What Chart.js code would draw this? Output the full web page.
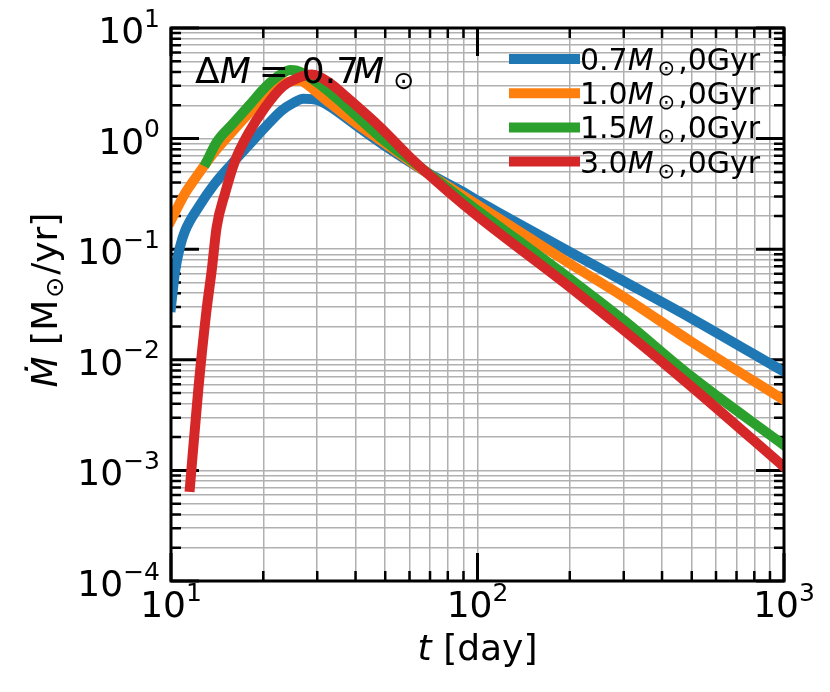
<!DOCTYPE html>
<html>
<head>
<meta charset="utf-8">
<script src="https://cdn.jsdelivr.net/npm/chart.js@4.4.1/dist/chart.umd.min.js"></script>
<style>
  html, body { margin: 0; padding: 0; background: #fff; }
  canvas { display: block; }
</style>
</head>
<body>
<canvas id="mdotChart" width="830" height="692"></canvas>
<script>
// time [day] and mass fallback rate [Msun/yr]
const t07 = [10, 10.3, 10.7, 11.1, 12.3, 13.9, 15.8, 17.9, 20.3, 23.0, 25.0, 27.0, 30.3, 33.0, 40.4, 50.6, 66.5, 90, 100, 115.6, 200, 300, 500, 1000];
const mdot07 = [0.030, 0.062, 0.105, 0.145, 0.240, 0.392, 0.593, 0.869, 1.27, 1.80, 2.09, 2.29, 2.21, 1.95, 1.30, 0.837, 0.516, 0.328, 0.275, 0.219, 0.0944, 0.0513, 0.0236, 0.0078];

const t10 = [10, 11.1, 12.3, 13.2, 14.3, 15.8, 17.9, 20.3, 23.0, 25.0, 26.3, 27.5, 29.1, 33.0, 40.4, 51.9, 66.5, 90, 100, 115.6, 200, 300, 500, 1000];
const mdot10 = [0.182, 0.318, 0.482, 0.635, 0.837, 1.146, 1.679, 2.455, 3.13, 3.31, 3.35, 3.16, 2.79, 2.09, 1.36, 0.837, 0.516, 0.303, 0.251, 0.195, 0.0741, 0.0370, 0.01452, 0.00432];

const t15 = [13.06, 14.1, 15.85, 18.0, 20.4, 23.1, 24.5, 25.7, 31.4, 37.4, 48.1, 64.9, 100, 200, 300, 500, 1000];
const mdot15 = [0.617, 0.933, 1.349, 1.995, 2.951, 3.89, 4.17, 4.12, 2.92, 1.93, 1.033, 0.553, 0.2244, 0.0542, 0.0228, 0.00702, 0.00169];

const t30 = [11.53, 12.27, 13.06, 13.58, 14.09, 15.0, 16.2, 17.86, 20.3, 23.0, 26.0, 28.8, 33.1, 37.4, 48.1, 61.7, 79.4, 100, 200, 300, 500, 1000];
const mdot30 = [0.00071, 0.00531, 0.0282, 0.0646, 0.158, 0.318, 0.635, 1.107, 1.928, 2.917, 3.548, 3.80, 3.162, 2.371, 1.271, 0.635, 0.340, 0.1995, 0.0455, 0.0185, 0.00569, 0.001076];

const starMass = ['0.7', '1.0', '1.5', '3.0'];
const starAge = '0Gyr';
const colors = ['#1f77b4', '#ff7f0e', '#2ca02c', '#d62728'];

// axis decades and their exponent labels
const xMajor = [10, 100, 1000];
const xExp = ['1', '2', '3'];
const yMajor = [10, 1, 0.1, 0.01, 0.001, 0.0001];
const yExp = ['1', '0', '\u22121', '\u22122', '\u22123', '\u22124'];

const FAM = '"DejaVu Sans"';
const MAIN = '36px ' + FAM;
const ITAL = 'italic 36px ' + FAM;
const SUP = '25px ' + FAM;
const LEG = '30px ' + FAM;
const LEG_I = 'italic 30px ' + FAM;
const LEG_S = '21px ' + FAM;

// minor ticks at 2..9 of each decade
function withMinors(majors) {
  const lo = Math.min(...majors), hi = Math.max(...majors);
  const out = [];
  majors.slice().sort((a, b) => a - b).forEach(m => {
    for (let k = 1; k <= 9; k++) {
      const v = +(m * k).toPrecision(3);
      if (v >= lo && v <= hi) out.push(v);
    }
  });
  return out;
}
const xTicks = withMinors(xMajor);
const yTicks = withMinors(yMajor);

function pts(ts, ys) {
  return ts.map((t, i) => ({ x: t, y: ys[i] }));
}

// draws text made of several runs (fonts / shifts) on one baseline
function drawParts(ctx, parts, x, y, align) {
  let w = 0;
  parts.forEach(p => {
    ctx.font = p.font;
    p.w = ctx.measureText(p.text).width;
    w += p.w + (p.dx || 0);
  });
  let cx = align === 'center' ? x - w / 2 : (align === 'right' ? x - w : x);
  parts.forEach(p => {
    ctx.font = p.font;
    cx += p.dx || 0;
    ctx.fillText(p.text, cx, y + (p.dy || 0));
    cx += p.w;
  });
}

const overlay = {
  id: 'overlay',
  beforeDatasetsDraw(chart) {
    // inward ticks on all four sides
    const ctx = chart.ctx, a = chart.chartArea;
    const xs = chart.scales.x, ys = chart.scales.y;
    ctx.save();
    ctx.strokeStyle = '#000';
    ctx.lineCap = 'butt';
    xTicks.forEach(v => {
      const major = xMajor.includes(v);
      const px = xs.getPixelForValue(v);
      const len = major ? 28 : 10;
      ctx.lineWidth = major ? 3 : 2.5;
      ctx.beginPath();
      ctx.moveTo(px, a.bottom); ctx.lineTo(px, a.bottom - len);
      ctx.moveTo(px, a.top); ctx.lineTo(px, a.top + len);
      ctx.stroke();
    });
    yTicks.forEach(v => {
      const major = yMajor.includes(v);
      const py = ys.getPixelForValue(v);
      const len = major ? 28 : 10;
      ctx.lineWidth = major ? 3 : 2.5;
      ctx.beginPath();
      ctx.moveTo(a.left, py); ctx.lineTo(a.left + len, py);
      ctx.moveTo(a.right, py); ctx.lineTo(a.right - len, py);
      ctx.stroke();
    });
    ctx.restore();
  },
  afterDatasetsDraw(chart) {
    const ctx = chart.ctx, a = chart.chartArea;
    const xs = chart.scales.x, ys = chart.scales.y;
    ctx.save();
    // frame
    ctx.strokeStyle = '#000';
    ctx.lineWidth = 3;
    ctx.strokeRect(a.left, a.top, a.right - a.left, a.bottom - a.top);

    ctx.fillStyle = '#000';
    ctx.textAlign = 'left';
    ctx.textBaseline = 'alphabetic';

    // legend
    starMass.forEach((m, i) => {
      const cy = 59 + i * 34.2;
      ctx.strokeStyle = colors[i];
      ctx.lineWidth = 10;
      ctx.beginPath();
      ctx.moveTo(509, cy); ctx.lineTo(580, cy);
      ctx.stroke();
      drawParts(ctx, [
        { text: m, font: LEG },
        { text: 'M', font: LEG_I },
        { text: '\u2299', font: LEG_S, dy: 5, dx: 4 },
        { text: ',' + starAge, font: LEG, dx: 3 }
      ], 580, cy + 11, 'left');
    });

    // annotation
    drawParts(ctx, [
      { text: '\u0394', font: MAIN },
      { text: 'M', font: ITAL },
      { text: '=', font: MAIN, dx: 8 },
      { text: '0.7', font: MAIN, dx: 13 },
      { text: 'M', font: ITAL, dx: -6 },
      { text: '\u2299', font: SUP, dy: 6, dx: 9 }
    ], 195, 83, 'left');

    // tick labels
    xMajor.forEach((v, i) => {
      drawParts(ctx, [
        { text: '10', font: MAIN },
        { text: xExp[i], font: SUP, dy: -16.5 }
      ], xs.getPixelForValue(v), a.bottom + 36, 'center');
    });
    yMajor.forEach((v, i) => {
      drawParts(ctx, [
        { text: '10', font: MAIN },
        { text: yExp[i], font: SUP, dy: -16.5 }
      ], a.left - 11, ys.getPixelForValue(v) + 15, 'right');
    });

    // axis titles
    drawParts(ctx, [
      { text: 't', font: ITAL },
      { text: ' [day]', font: MAIN }
    ], (a.left + a.right) / 2, 660, 'center');

    ctx.translate(57, 300);
    ctx.rotate(-Math.PI / 2);
    drawParts(ctx, [
      { text: '\u1E40', font: ITAL },
      { text: ' [M', font: MAIN },
      { text: '\u2299', font: SUP, dy: 6, dx: 2 },
      { text: '/yr]', font: MAIN, dx: 2 }
    ], 0, 0, 'center');
    ctx.restore();
  }
};

const gridOpts = { color: '#b0b0b0', lineWidth: 1.5, drawTicks: false };

new Chart(document.getElementById('mdotChart').getContext('2d'), {
  type: 'line',
  data: {
    datasets: [
      { label: '0.7M\u2299,0Gyr', data: pts(t07, mdot07), borderColor: colors[0], order: 3 },
      { label: '1.0M\u2299,0Gyr', data: pts(t10, mdot10), borderColor: colors[1], order: 2 },
      { label: '1.5M\u2299,0Gyr', data: pts(t15, mdot15), borderColor: colors[2], order: 1 },
      { label: '3.0M\u2299,0Gyr', data: pts(t30, mdot30), borderColor: colors[3], order: 0 }
    ]
  },
  options: {
    responsive: false,
    animation: false,
    layout: { padding: { left: 171, right: 46, top: 28, bottom: 111 } },
    elements: {
      line: {
        borderWidth: 10,
        cubicInterpolationMode: 'monotone',
        borderCapStyle: 'square',
        borderJoinStyle: 'round',
        fill: false
      },
      point: { radius: 0, hoverRadius: 0 }
    },
    datasets: { line: { clip: 0 } },
    scales: {
      x: {
        type: 'logarithmic',
        min: 10,
        max: 1000,
        ticks: { display: false },
        grid: gridOpts,
        border: { display: false },
        afterBuildTicks: s => { s.ticks = xTicks.map(v => ({ value: v })); }
      },
      y: {
        type: 'logarithmic',
        min: 0.0001,
        max: 10,
        ticks: { display: false },
        grid: gridOpts,
        border: { display: false },
        afterBuildTicks: s => { s.ticks = yTicks.map(v => ({ value: v })); }
      }
    },
    plugins: {
      legend: { display: false },
      tooltip: { enabled: false }
    }
  },
  plugins: [overlay]
});
</script>
</body>
</html>
